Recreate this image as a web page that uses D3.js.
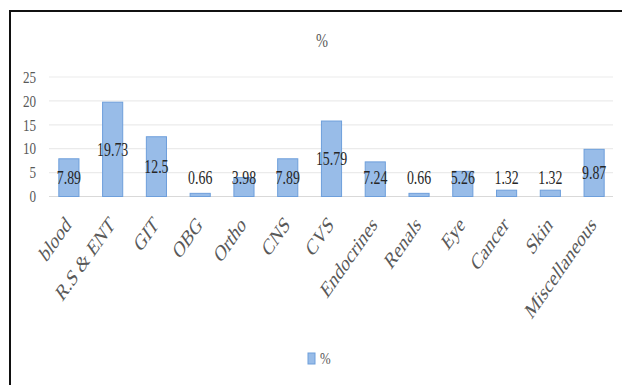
<!DOCTYPE html>
<html>
<head>
<meta charset="utf-8">
<script src="https://cdn.jsdelivr.net/npm/d3@7"></script>
<style>
  html, body { margin: 0; padding: 0; background: #fff; }
  svg { display: block; }
</style>
</head>
<body>
<svg id="chart" width="622" height="385"></svg>
<script>
// Share of cases by system (%)
const categories = ["blood", "R.S & ENT", "GIT", "OBG", "Ortho", "CNS", "CVS",
                    "Endocrines", "Renals", "Eye", "Cancer", "Skin", "Miscellaneous"];
const percentValues = [7.89, 19.73, 12.5, 0.66, 3.98, 7.89, 15.79, 7.24, 0.66, 5.26, 1.32, 1.32, 9.87];
const valueLabels = ["7.89", "19.73", "12.5", "0.66", "3.98", "7.89", "15.79", "7.24", "0.66", "5.26", "1.32", "1.32", "9.87"];
const yTicks = [0, 5, 10, 15, 20, 25];
const seriesName = "%";
const chartTitle = "%";

const svg = d3.select("#chart");
const serif = "'Liberation Serif', 'Times New Roman', serif";
const squeeze = 0.77; // horizontal text condensing

// Outer frame (runs past the right and bottom edges)
svg.append("rect")
  .attr("x", 10).attr("y", 11)
  .attr("width", 640).attr("height", 400)
  .attr("fill", "#fff")
  .attr("stroke", "#111").attr("stroke-width", 2);

const x = d3.scaleBand()
  .domain(categories)
  .range([47, 616])
  .paddingInner(0.54)
  .paddingOuter(0.27);

const y = d3.scaleLinear()
  .domain([0, 25])
  .range([196.5, 77]);

// Gridlines
svg.append("g")
  .selectAll("line")
  .data(yTicks)
  .join("line")
  .attr("x1", 49).attr("x2", 613)
  .attr("y1", d => y(d)).attr("y2", d => y(d))
  .attr("stroke", d => d === 0 ? "#d9d9d9" : "#ebebeb")
  .attr("stroke-width", 1.2);

// Y axis labels
const yAxis = d3.axisLeft(y).tickValues(yTicks).tickSize(0).tickPadding(0);
const yG = svg.append("g").attr("transform", "translate(36,0)").call(yAxis);
yG.select(".domain").remove();
yG.selectAll("text")
  .attr("font-family", serif)
  .attr("font-size", 16)
  .attr("fill", "#595959")
  .attr("text-anchor", "end")
  .attr("dy", "0.33em")
  .attr("transform", function(d) { return `translate(0,${y(d)}) scale(0.82,1) translate(0,${-y(d)})`; });

// Bars
svg.append("g")
  .selectAll("rect")
  .data(percentValues)
  .join("rect")
  .attr("x", (d, i) => x(categories[i]))
  .attr("y", d => y(d))
  .attr("width", x.bandwidth())
  .attr("height", d => y(0) - y(d))
  .attr("fill", "#98bce8")
  .attr("stroke", "#6e9fdb")
  .attr("stroke-width", 1);

// Value labels (centered in the bar, kept clear of the baseline for short bars)
svg.append("g")
  .selectAll("text")
  .data(percentValues)
  .join("text")
  .attr("transform", (d, i) => {
    const cx = x(categories[i]) + x.bandwidth() / 2;
    const cy = y(Math.max(d / 2, 3.9));
    return `translate(${cx},${cy}) scale(${squeeze},1)`;
  })
  .attr("text-anchor", "middle")
  .attr("dy", "0.35em")
  .attr("font-family", serif)
  .attr("font-size", 18)
  .attr("fill", "#262626")
  .text((d, i) => valueLabels[i]);

// Category labels, rotated
svg.append("g")
  .selectAll("text")
  .data(categories)
  .join("text")
  .attr("transform", d => {
    const cx = x(d) + x.bandwidth() / 2;
    return `translate(${cx + 3},226) scale(0.7,1) rotate(-45)`;
  })
  .attr("text-anchor", "end")
  .attr("font-family", serif)
  .attr("font-size", 23)
  .attr("fill", "#595959")
  .text(d => d);

// Title
svg.append("text")
  .attr("transform", "translate(322,47) scale(0.8,1)")
  .attr("text-anchor", "middle")
  .attr("font-family", serif)
  .attr("font-size", 18)
  .attr("fill", "#595959")
  .text(chartTitle);

// Legend
const legend = svg.append("g").attr("transform", "translate(308,353)");
legend.append("rect")
  .attr("x", 0).attr("y", 0).attr("width", 7).attr("height", 11)
  .attr("fill", "#98bce8").attr("stroke", "#6e9fdb");
legend.append("text")
  .attr("transform", "translate(12,11) scale(0.8,1)")
  .attr("font-family", serif)
  .attr("font-size", 16)
  .attr("fill", "#595959")
  .text(seriesName);
</script>
</body>
</html>
